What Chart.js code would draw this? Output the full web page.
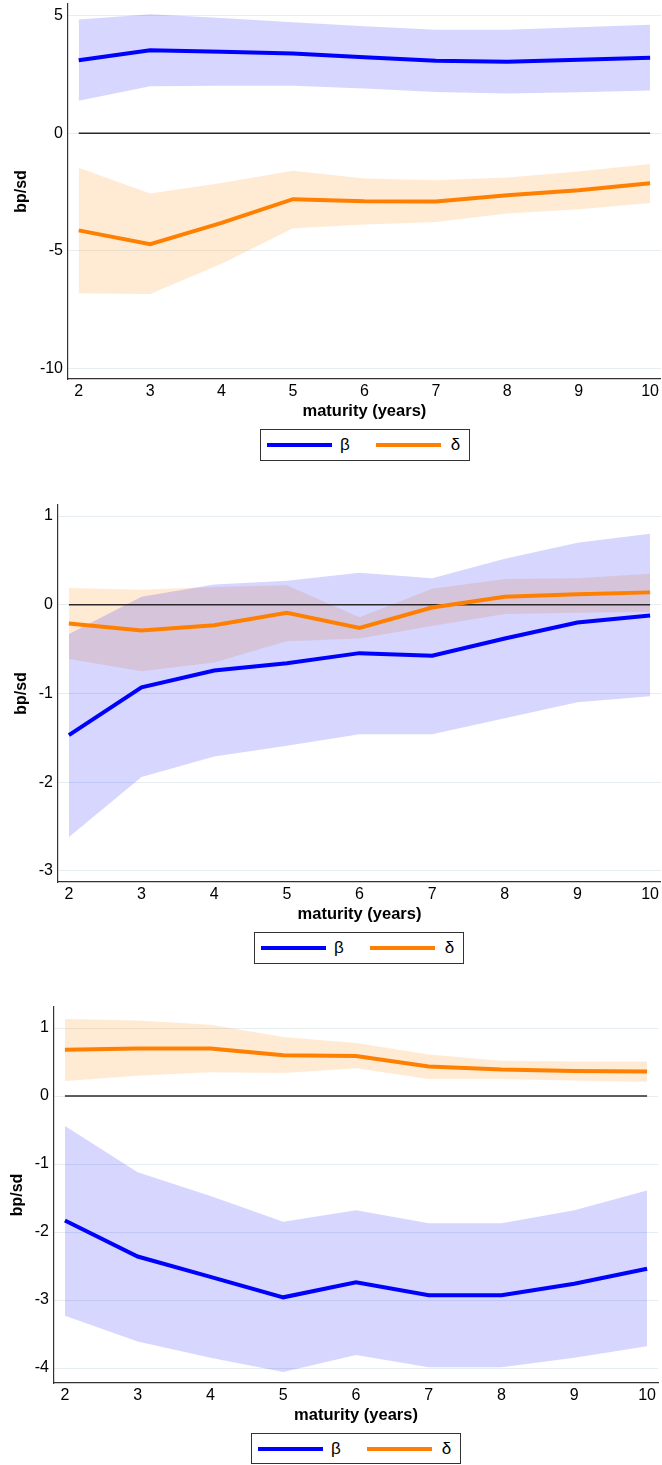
<!DOCTYPE html>
<html>
<head>
<meta charset="utf-8">
<script src="https://cdn.jsdelivr.net/npm/chart.js"></script>
<style>
    body { margin: 0; background: #fff; width: 662px; height: 1465px; position: relative; overflow: hidden;
           font-family: "Liberation Sans", Arial, sans-serif; }
    .panel { position: absolute; left: 0; width: 662px; }
    .panel canvas { display: block; }
    .legend { position: absolute; box-sizing: border-box; height: 32px; border: 1px solid #333;
              display: flex; align-items: center; padding: 0 9px 0 6px; font-size: 17px; color: #000; }
    .legend .bar { width: 65px; height: 4px; }
    .legend .txt { margin-left: 8px; margin-right: 26px; }
    .legend .txt:last-child { margin-right: 0; margin-left: 10px; }
</style>
</head>
<body>

<div class="panel" id="p1" style="top:0px"><canvas id="c1" width="662" height="424"></canvas></div>
<div class="legend" style="top:429px; left:260px"><span class="bar" style="background:#0000ff"></span><span class="txt">β</span><span class="bar" style="background:#ff8000"></span><span class="txt">δ</span></div>

<div class="panel" id="p2" style="top:490px"><canvas id="c2" width="662" height="437"></canvas></div>
<div class="legend" style="top:932px; left:254px"><span class="bar" style="background:#0000ff"></span><span class="txt">β</span><span class="bar" style="background:#ff8000"></span><span class="txt">δ</span></div>

<div class="panel" id="p3" style="top:980px"><canvas id="c3" width="662" height="448"></canvas></div>
<div class="legend" style="top:1433px; left:251px; height:31px"><span class="bar" style="background:#0000ff"></span><span class="txt">β</span><span class="bar" style="background:#ff8000"></span><span class="txt">δ</span></div>

<script>
// maturities on the x axis (years)
const maturities = [2, 3, 4, 5, 6, 7, 8, 9, 10];
const refLevel = 0;

// panel 1
const beta1   = [3.11, 3.53, 3.47, 3.39, 3.23, 3.09, 3.04, 3.13, 3.21];
const beta1Hi = [4.84, 5.06, 4.90, 4.72, 4.55, 4.41, 4.41, 4.51, 4.62];
const beta1Lo = [1.39, 2.00, 2.02, 2.02, 1.91, 1.76, 1.69, 1.75, 1.82];
const delta1   = [-4.13, -4.72, -3.81, -2.80, -2.89, -2.90, -2.63, -2.42, -2.12];
const delta1Hi = [-1.47, -2.56, -2.11, -1.59, -1.92, -2.00, -1.88, -1.62, -1.31];
const delta1Lo = [-6.80, -6.83, -5.55, -4.04, -3.88, -3.77, -3.41, -3.23, -2.96];
const yTicks1 = [-10, -5, 0, 5];

// panel 2
const beta2   = [-1.47, -0.93, -0.74, -0.66, -0.545, -0.575, -0.38, -0.20, -0.12];
const beta2Hi = [-0.33, 0.09, 0.23, 0.27, 0.36, 0.30, 0.52, 0.70, 0.80];
const beta2Lo = [-2.62, -1.94, -1.71, -1.59, -1.46, -1.46, -1.28, -1.10, -1.03];
const delta2   = [-0.21, -0.29, -0.23, -0.09, -0.26, -0.03, 0.09, 0.12, 0.14];
const delta2Hi = [0.19, 0.17, 0.20, 0.22, -0.14, 0.18, 0.29, 0.30, 0.35];
const delta2Lo = [-0.61, -0.75, -0.65, -0.41, -0.38, -0.24, -0.105, -0.09, -0.08];
const yTicks2 = [-3, -2, -1, 0, 1];

// panel 3
const beta3   = [-1.83, -2.36, -2.66, -2.96, -2.74, -2.93, -2.93, -2.76, -2.54];
const beta3Hi = [-0.44, -1.12, -1.47, -1.85, -1.68, -1.87, -1.87, -1.68, -1.39];
const beta3Lo = [-3.23, -3.61, -3.85, -4.06, -3.81, -3.99, -3.99, -3.85, -3.68];
const delta3   = [0.68, 0.70, 0.70, 0.60, 0.59, 0.435, 0.39, 0.37, 0.36];
const delta3Hi = [1.135, 1.11, 1.05, 0.87, 0.78, 0.61, 0.52, 0.51, 0.51];
const delta3Lo = [0.22, 0.30, 0.35, 0.34, 0.41, 0.25, 0.25, 0.23, 0.21];
const yTicks3 = [-4, -3, -2, -1, 0, 1];

const BLUE = '#0000ff';
const ORANGE = '#ff8000';
const BLUE_BAND = 'rgba(0, 0, 255, 0.16)';
const ORANGE_BAND = 'rgba(255, 128, 0, 0.17)';
const FONT = '"Liberation Sans", Arial, sans-serif';

const pts = vals => maturities.map((m, i) => ({ x: m, y: vals[i] }));

function lineSet(label, vals, color) {
    return { label, data: pts(vals), borderColor: color, borderWidth: 4, pointRadius: 0, tension: 0, fill: false, order: 0 };
}

// upper bound fills down to the dataset that follows it (the lower bound)
function bandSets(hi, lo, color) {
    return [
        { label: 'hi', data: pts(hi), borderWidth: 0, pointRadius: 0, fill: '+1', backgroundColor: color, order: 2 },
        { label: 'lo', data: pts(lo), borderWidth: 0, pointRadius: 0, fill: false, order: 2 }
    ];
}

function renderPanel(id, cfg) {
    const ctx = document.getElementById(id);
    return new Chart(ctx, {
        type: 'line',
        data: {
            datasets: [
                lineSet('β', cfg.beta, BLUE),
                lineSet('δ', cfg.delta, ORANGE),
                { label: 'zero', data: maturities.map(m => ({ x: m, y: refLevel })), borderColor: '#2a2a2a', borderWidth: 1.5, pointRadius: 0, order: 1 },
                ...bandSets(cfg.betaHi, cfg.betaLo, BLUE_BAND),
                ...bandSets(cfg.deltaHi, cfg.deltaLo, ORANGE_BAND)
            ]
        },
        options: {
            responsive: false,
            animation: false,
            devicePixelRatio: 1,
            layout: { padding: { top: cfg.padTop, right: cfg.padRight, left: 0, bottom: 0 } },
            plugins: { legend: { display: false }, tooltip: { enabled: false } },
            scales: {
                x: {
                    type: 'linear',
                    min: 1.85, max: 10.15,
                    afterBuildTicks: s => { s.ticks = maturities.map(v => ({ value: v })); },
                    afterFit: s => { s.height = 45; },
                    grid: { display: false, drawTicks: false },
                    border: { display: true, color: '#333', width: 1.2 },
                    ticks: { padding: 3, color: '#000', font: { family: FONT, size: 16 }, maxRotation: 0, callback: v => String(v) },
                    title: { display: true, text: 'maturity (years)', color: '#000', font: { family: FONT, size: 16.5, weight: 'bold' }, padding: { top: 0, bottom: 3 } }
                },
                y: {
                    min: cfg.yMin, max: cfg.yMax,
                    afterBuildTicks: s => { s.ticks = cfg.yTicks.map(v => ({ value: v })); },
                    // fixed axis width, and no extra room reserved for the end labels
                    afterFit: s => { s.width = cfg.axisW; s.paddingTop = 0; s.paddingBottom = 0; },
                    grid: { color: '#e6eef2', lineWidth: 1, drawTicks: false },
                    border: { display: true, color: '#333', width: 1.2 },
                    ticks: { padding: 5, color: '#000', font: { family: FONT, size: 16 }, callback: v => String(v) },
                    title: { display: true, text: 'bp/sd', color: '#000', font: { family: FONT, size: 16, weight: 'bold' }, padding: { top: cfg.titlePad, bottom: 0 } }
                }
            }
        }
    });
}

renderPanel('c1', { beta: beta1, betaHi: beta1Hi, betaLo: beta1Lo, delta: delta1, deltaHi: delta1Hi, deltaLo: delta1Lo,
    yTicks: yTicks1, yMin: -10.45, yMax: 5.5, padTop: 4, padRight: 0, axisW: 68, titlePad: 12 });
renderPanel('c2', { beta: beta2, betaHi: beta2Hi, betaLo: beta2Lo, delta: delta2, deltaHi: delta2Hi, deltaLo: delta2Lo,
    yTicks: yTicks2, yMin: -3.125, yMax: 1.125, padTop: 15, padRight: 0, axisW: 58, titlePad: 12 });
renderPanel('c3', { beta: beta3, betaHi: beta3Hi, betaLo: beta3Lo, delta: delta3, deltaHi: delta3Hi, deltaLo: delta3Lo,
    yTicks: yTicks3, yMin: -4.22, yMax: 1.31, padTop: 27, padRight: 4, axisW: 54, titlePad: 8 });
</script>
</body>
</html>
